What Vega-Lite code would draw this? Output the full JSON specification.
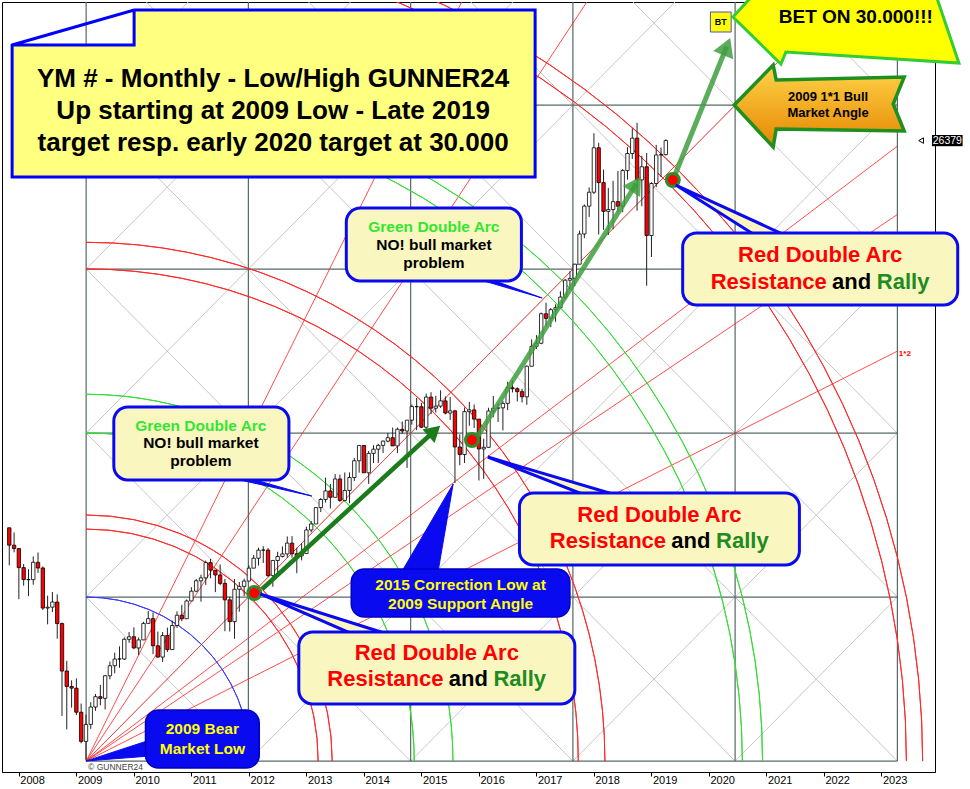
{
"$schema":"https://vega.github.io/schema/vega-lite/v6.json",
"width":933,"height":770,
"autosize":{"type":"none"},
"padding":{"left":2,"top":2,"right":35,"bottom":17},
"background":"#FFFFFF",
"config":{"view":{"stroke":"#000000","strokeWidth":1},"font":"Liberation Sans"},
"datasets":{
"candles":[
{"t":2007.833,"open":13930,"high":13930,"low":12725,"close":13372},
{"t":2007.917,"open":13372,"high":13780,"low":13143,"close":13265},
{"t":2008.0,"open":13262,"high":13280,"low":11635,"close":12650},
{"t":2008.083,"open":12650,"high":12767,"low":12070,"close":12266},
{"t":2008.167,"open":12266,"high":12600,"low":11731,"close":12263},
{"t":2008.25,"open":12263,"high":13010,"low":12100,"close":12820},
{"t":2008.333,"open":12820,"high":13136,"low":12480,"close":12638},
{"t":2008.417,"open":12638,"high":12690,"low":11287,"close":11350},
{"t":2008.5,"open":11350,"high":11750,"low":10827,"close":11378},
{"t":2008.583,"open":11378,"high":11867,"low":11220,"close":11544},
{"t":2008.667,"open":11544,"high":11790,"low":10365,"close":10851},
{"t":2008.75,"open":10851,"high":10882,"low":7882,"close":9325},
{"t":2008.833,"open":9325,"high":9654,"low":7449,"close":8829},
{"t":2008.917,"open":8829,"high":9026,"low":8149,"close":8776},
{"t":2009.0,"open":8772,"high":9088,"low":7909,"close":8001},
{"t":2009.083,"open":8001,"high":8280,"low":7000,"close":7063},
{"t":2009.167,"open":7063,"high":7924,"low":6470,"close":7609},
{"t":2009.25,"open":7609,"high":8325,"low":7466,"close":8168},
{"t":2009.333,"open":8168,"high":8587,"low":8045,"close":8500},
{"t":2009.417,"open":8500,"high":8877,"low":8221,"close":8447},
{"t":2009.5,"open":8447,"high":9200,"low":8088,"close":9172},
{"t":2009.583,"open":9172,"high":9630,"low":9060,"close":9496},
{"t":2009.667,"open":9496,"high":9917,"low":9253,"close":9712},
{"t":2009.75,"open":9712,"high":10119,"low":9430,"close":9713},
{"t":2009.833,"open":9713,"high":10406,"low":9679,"close":10345},
{"t":2009.917,"open":10345,"high":10580,"low":10235,"close":10428},
{"t":2010.0,"open":10428,"high":10729,"low":10026,"close":10067},
{"t":2010.083,"open":10067,"high":10402,"low":9835,"close":10325},
{"t":2010.167,"open":10325,"high":10907,"low":10325,"close":10857},
{"t":2010.25,"open":10857,"high":11258,"low":10857,"close":11009},
{"t":2010.333,"open":11009,"high":11205,"low":9870,"close":10137},
{"t":2010.417,"open":10137,"high":10595,"low":9757,"close":9774},
{"t":2010.5,"open":9774,"high":10580,"low":9614,"close":10466},
{"t":2010.583,"open":10466,"high":10720,"low":9936,"close":10015},
{"t":2010.667,"open":10015,"high":10948,"low":10015,"close":10788},
{"t":2010.75,"open":10788,"high":11246,"low":10712,"close":11118},
{"t":2010.833,"open":11118,"high":11452,"low":10929,"close":11006},
{"t":2010.917,"open":11006,"high":11625,"low":11006,"close":11578},
{"t":2011.0,"open":11578,"high":12020,"low":11577,"close":11892},
{"t":2011.083,"open":11892,"high":12284,"low":11860,"close":12226},
{"t":2011.167,"open":12226,"high":12419,"low":11555,"close":12320},
{"t":2011.25,"open":12320,"high":12876,"low":12093,"close":12811},
{"t":2011.333,"open":12811,"high":12929,"low":12309,"close":12570},
{"t":2011.417,"open":12570,"high":12570,"low":11862,"close":12414},
{"t":2011.5,"open":12414,"high":12753,"low":12087,"close":12143},
{"t":2011.583,"open":12143,"high":12285,"low":10604,"close":11614},
{"t":2011.667,"open":11614,"high":11717,"low":10597,"close":10913},
{"t":2011.75,"open":10913,"high":12284,"low":10362,"close":11955},
{"t":2011.833,"open":11955,"high":12188,"low":11231,"close":12046},
{"t":2011.917,"open":12046,"high":12294,"low":11735,"close":12218},
{"t":2012.0,"open":12218,"high":12721,"low":12218,"close":12633},
{"t":2012.083,"open":12633,"high":13055,"low":12633,"close":12952},
{"t":2012.167,"open":12952,"high":13290,"low":12716,"close":13212},
{"t":2012.25,"open":13212,"high":13338,"low":12800,"close":13214},
{"t":2012.333,"open":13214,"high":13279,"low":12353,"close":12393},
{"t":2012.417,"open":12393,"high":12898,"low":12035,"close":12880},
{"t":2012.5,"open":12880,"high":13159,"low":12492,"close":13009},
{"t":2012.583,"open":13009,"high":13331,"low":12977,"close":13091},
{"t":2012.667,"open":13091,"high":13653,"low":12969,"close":13437},
{"t":2012.75,"open":13437,"high":13662,"low":12970,"close":13096},
{"t":2012.833,"open":13096,"high":13290,"low":12471,"close":13026},
{"t":2012.917,"open":13026,"high":13430,"low":12883,"close":13104},
{"t":2013.0,"open":13104,"high":13969,"low":13104,"close":13861},
{"t":2013.083,"open":13861,"high":14150,"low":13784,"close":14054},
{"t":2013.167,"open":14054,"high":14585,"low":14054,"close":14579},
{"t":2013.25,"open":14579,"high":14888,"low":14434,"close":14840},
{"t":2013.333,"open":14840,"high":15542,"low":14740,"close":15116},
{"t":2013.417,"open":15116,"high":15340,"low":14551,"close":14910},
{"t":2013.5,"open":14910,"high":15658,"low":14910,"close":15500},
{"t":2013.583,"open":15500,"high":15641,"low":14760,"close":14810},
{"t":2013.667,"open":14810,"high":15709,"low":14777,"close":15130},
{"t":2013.75,"open":15130,"high":15710,"low":14719,"close":15546},
{"t":2013.833,"open":15546,"high":16174,"low":15437,"close":16086},
{"t":2013.917,"open":16086,"high":16588,"low":15703,"close":16577},
{"t":2014.0,"open":16577,"high":16588,"low":15699,"close":15699},
{"t":2014.083,"open":15699,"high":16398,"low":15341,"close":16322},
{"t":2014.167,"open":16322,"high":16588,"low":16015,"close":16458},
{"t":2014.25,"open":16458,"high":16631,"low":16015,"close":16581},
{"t":2014.333,"open":16581,"high":16736,"low":16334,"close":16717},
{"t":2014.417,"open":16717,"high":16978,"low":16675,"close":16827},
{"t":2014.5,"open":16827,"high":17152,"low":16563,"close":16563},
{"t":2014.583,"open":16563,"high":17153,"low":16333,"close":17098},
{"t":2014.667,"open":17098,"high":17350,"low":16945,"close":17043},
{"t":2014.75,"open":17043,"high":17395,"low":15855,"close":17391},
{"t":2014.833,"open":17391,"high":17894,"low":17247,"close":17828},
{"t":2014.917,"open":17828,"high":18103,"low":17067,"close":17823},
{"t":2015.0,"open":17823,"high":17951,"low":17136,"close":17165},
{"t":2015.083,"open":17165,"high":18244,"low":17038,"close":18133},
{"t":2015.167,"open":18133,"high":18289,"low":17585,"close":17776},
{"t":2015.25,"open":17776,"high":18175,"low":17634,"close":17841},
{"t":2015.333,"open":17841,"high":18351,"low":17784,"close":18011},
{"t":2015.417,"open":18011,"high":18155,"low":17578,"close":17620},
{"t":2015.5,"open":17620,"high":18137,"low":17400,"close":17690},
{"t":2015.583,"open":17690,"high":17712,"low":15370,"close":16528},
{"t":2015.667,"open":16528,"high":16933,"low":15942,"close":16285},
{"t":2015.75,"open":16285,"high":17800,"low":16013,"close":17664},
{"t":2015.833,"open":17664,"high":17978,"low":17210,"close":17720},
{"t":2015.917,"open":17720,"high":17896,"low":17139,"close":17425},
{"t":2016.0,"open":17425,"high":17425,"low":15451,"close":16466},
{"t":2016.083,"open":16466,"high":16795,"low":15503,"close":16517},
{"t":2016.167,"open":16517,"high":17790,"low":16506,"close":17685},
{"t":2016.25,"open":17685,"high":18168,"low":17485,"close":17774},
{"t":2016.333,"open":17774,"high":17934,"low":17332,"close":17787},
{"t":2016.417,"open":17787,"high":18017,"low":17063,"close":17930},
{"t":2016.5,"open":17930,"high":18622,"low":17713,"close":18432},
{"t":2016.583,"open":18432,"high":18668,"low":18282,"close":18401},
{"t":2016.667,"open":18401,"high":18450,"low":17992,"close":18308},
{"t":2016.75,"open":18308,"high":18399,"low":17959,"close":18142},
{"t":2016.833,"open":18142,"high":19152,"low":17884,"close":19124},
{"t":2016.917,"open":19124,"high":19988,"low":19124,"close":19763},
{"t":2017.0,"open":19763,"high":20126,"low":19678,"close":19864},
{"t":2017.083,"open":19864,"high":20851,"low":19832,"close":20812},
{"t":2017.167,"open":20812,"high":21169,"low":20412,"close":20663},
{"t":2017.25,"open":20663,"high":20997,"low":20379,"close":20941},
{"t":2017.333,"open":20941,"high":21113,"low":20554,"close":21009},
{"t":2017.417,"open":21009,"high":21535,"low":20996,"close":21350},
{"t":2017.5,"open":21350,"high":21929,"low":21280,"close":21891},
{"t":2017.583,"open":21891,"high":22179,"low":21600,"close":21948},
{"t":2017.667,"open":21948,"high":22420,"low":21709,"close":22405},
{"t":2017.75,"open":22405,"high":23485,"low":22405,"close":23377},
{"t":2017.833,"open":23377,"high":24327,"low":23242,"close":24272},
{"t":2017.917,"open":24272,"high":24876,"low":23922,"close":24719},
{"t":2018.0,"open":24719,"high":26617,"low":24660,"close":26149},
{"t":2018.083,"open":26149,"high":26307,"low":23360,"close":25029},
{"t":2018.167,"open":25029,"high":25450,"low":23509,"close":24103},
{"t":2018.25,"open":24103,"high":24858,"low":23344,"close":24163},
{"t":2018.333,"open":24163,"high":25087,"low":23531,"close":24416},
{"t":2018.417,"open":24416,"high":25403,"low":24078,"close":24271},
{"t":2018.5,"open":24271,"high":25462,"low":24077,"close":25415},
{"t":2018.583,"open":25415,"high":26168,"low":25124,"close":25965},
{"t":2018.667,"open":25965,"high":26770,"low":25790,"close":26458},
{"t":2018.75,"open":26458,"high":26951,"low":24123,"close":25116},
{"t":2018.833,"open":25116,"high":25889,"low":24268,"close":25538},
{"t":2018.917,"open":25538,"high":25980,"low":21713,"close":23327},
{"t":2019.0,"open":23327,"high":25040,"low":22639,"close":24999},
{"t":2019.083,"open":24999,"high":26241,"low":24883,"close":25916},
{"t":2019.167,"open":25916,"high":26156,"low":25208,"close":25929},
{"t":2019.25,"open":25929,"high":26424,"low":25900,"close":26379}
],
"pink":[
{"t":2009.5227},{"t":2009.8753},{"t":2010.228},{"t":2010.5807},{"t":2010.9333},{"t":2011.286},{"t":2011.6386},
{"t":2012.344},{"t":2012.6966},{"t":2013.0493},{"t":2013.402},{"t":2013.7546},{"t":2014.1073},{"t":2014.4599},
{"t":2015.1653},{"t":2015.5179},{"t":2015.8706},{"t":2016.2233},{"t":2016.5759},{"t":2016.9286},{"t":2017.2812},
{"t":2017.9866},{"t":2018.3392},{"t":2018.6919},{"t":2019.0446},{"t":2019.3972},{"t":2019.7499},{"t":2020.1025},
{"t":2020.8079},{"t":2021.1605},{"t":2021.5132},{"t":2021.8659},{"t":2022.2185},{"t":2022.5712},{"t":2022.9238}
],
"lattice":[
{"t":2009.170,"v":6430,"t2":2023.277,"v2":32790},
{"t":2011.991,"v":6430,"t2":2023.277,"v2":27518},
{"t":2014.813,"v":6430,"t2":2023.277,"v2":22246},
{"t":2017.634,"v":6430,"t2":2023.277,"v2":16974},
{"t":2020.455,"v":6430,"t2":2023.277,"v2":11702},
{"t":2009.170,"v":11702,"t2":2020.455,"v2":32790},
{"t":2009.170,"v":16974,"t2":2017.634,"v2":32790},
{"t":2009.170,"v":22246,"t2":2014.813,"v2":32790},
{"t":2009.170,"v":27518,"t2":2011.991,"v2":32790},
{"t":2009.170,"v":11702,"t2":2011.991,"v2":6430},
{"t":2009.170,"v":16974,"t2":2014.813,"v2":6430},
{"t":2009.170,"v":22246,"t2":2017.634,"v2":6430},
{"t":2009.170,"v":27518,"t2":2020.455,"v2":6430},
{"t":2009.170,"v":32790,"t2":2023.277,"v2":6430},
{"t":2011.991,"v":32790,"t2":2023.277,"v2":11702},
{"t":2014.813,"v":32790,"t2":2023.277,"v2":16974},
{"t":2017.634,"v":32790,"t2":2023.277,"v2":22246},
{"t":2020.455,"v":32790,"t2":2023.277,"v2":27518}
],
"grid":[
{"t":2009.170,"v":6430,"t2":2009.170,"v2":32790},
{"t":2011.991,"v":6430,"t2":2011.991,"v2":32790},
{"t":2014.813,"v":6430,"t2":2014.813,"v2":32790},
{"t":2017.634,"v":6430,"t2":2017.634,"v2":32790},
{"t":2020.455,"v":6430,"t2":2020.455,"v2":32790},
{"t":2023.277,"v":6430,"t2":2023.277,"v2":32790},
{"t":2009.170,"v":6430,"t2":2023.277,"v2":6430},
{"t":2009.170,"v":11702,"t2":2023.277,"v2":11702},
{"t":2009.170,"v":16974,"t2":2023.277,"v2":16974},
{"t":2009.170,"v":22246,"t2":2023.277,"v2":22246},
{"t":2009.170,"v":27518,"t2":2023.277,"v2":27518}
],
"fan":[
{"t":2009.170,"v":6430,"t2":2016.223,"v2":32790},
{"t":2009.170,"v":6430,"t2":2018.574,"v2":32790},
{"t":2009.170,"v":6430,"t2":2023.277,"v2":32790},
{"t":2009.170,"v":6430,"t2":2023.277,"v2":26200},
{"t":2009.170,"v":6430,"t2":2023.277,"v2":24003},
{"t":2009.170,"v":6430,"t2":2023.277,"v2":19610}
],
"redArcs":[
{"t":2009.170,"v":6430,"r":1.4142},{"t":2009.170,"v":6430,"r":1.5},
{"t":2009.170,"v":6430,"r":3},{"t":2009.170,"v":6430,"r":3.1623},
{"t":2009.170,"v":6430,"r":5},{"t":2009.170,"v":6430,"r":5.099}
],
"greenArcs":[
{"t":2009.170,"v":6430,"r":2},{"t":2009.170,"v":6430,"r":2.2361},
{"t":2009.170,"v":6430,"r":4},{"t":2009.170,"v":6430,"r":4.1231}
],
"blueArc":[{"t":2009.170,"v":6430,"r":1}],
"pointers":[
{"id":"p1","kind":"solid","t":2013.092,"v":14952},
{"id":"p2","kind":"solid","t":2017.100,"v":21318},
{"id":"p3","kind":"open","t":2019.423,"v":24951},
{"id":"p4","kind":"open","t":2016.154,"v":16206},
{"id":"p5","kind":"open","t":2012.198,"v":11802},
{"id":"p6","kind":"solid","t":2015.552,"v":15338},
{"id":"p7","kind":"solid","t":2009.170,"v":6433}
],
"texts":[
{"t":2012.421,"v":28359,"text":"YM # - Monthly - Low/High GUNNER24","style":"title"},
{"t":2012.421,"v":27330,"text":"Up starting at 2009 Low - Late 2019","style":"title"},
{"t":2012.421,"v":26301,"text":"target resp. early 2020 target at 30.000","style":"title"},
{"t":2021.934,"v":22701,"text":"Red Double Arc","style":"red"},
{"t":2021.040,"v":21833,"text":"Resistance","style":"red"},
{"t":2022.482,"v":21833,"text":"and","style":"and"},
{"t":2023.376,"v":21833,"text":"Rally","style":"rally"},
{"t":2019.139,"v":14342,"text":"Red Double Arc","style":"red"},
{"t":2018.244,"v":13506,"text":"Resistance","style":"red"},
{"t":2019.686,"v":13506,"text":"and","style":"and"},
{"t":2020.581,"v":13506,"text":"Rally","style":"rally"},
{"t":2015.268,"v":9905,"text":"Red Double Arc","style":"red"},
{"t":2014.374,"v":9069,"text":"Resistance","style":"red"},
{"t":2015.815,"v":9069,"text":"and","style":"and"},
{"t":2016.710,"v":9069,"text":"Rally","style":"rally"},
{"t":2011.165,"v":17203,"text":"Green Double Arc","style":"greenhead"},
{"t":2011.165,"v":16656,"text":"NO! bull market","style":"note"},
{"t":2011.165,"v":16078,"text":"problem","style":"note"},
{"t":2015.217,"v":23601,"text":"Green Double Arc","style":"greenhead"},
{"t":2015.217,"v":23022,"text":"NO! bull market","style":"note"},
{"t":2015.217,"v":22443,"text":"problem","style":"note"},
{"t":2015.681,"v":12091,"text":"2015 Correction Low at","style":"blue2015"},
{"t":2015.681,"v":11480,"text":"2009 Support Angle","style":"blue2015"},
{"t":2011.191,"v":7461,"text":"2009 Bear","style":"bluebear"},
{"t":2011.191,"v":6818,"text":"Market Low","style":"bluebear"},
{"t":2022.072,"v":27780,"text":"2009 1*1 Bull","style":"bull"},
{"t":2022.072,"v":27266,"text":"Market Angle","style":"bull"},
{"t":2022.554,"v":30352,"text":"BET ON 30.000!!!","style":"bet"},
{"t":2020.206,"v":30192,"text":"BT","style":"bt"}
]
},
"encoding":{
"x":{"field":"t","type":"quantitative","scale":{"domain":[2007.7936,2023.844],"nice":false,"zero":false},
 "axis":{"title":null,"values":[2008,2009,2010,2011,2012,2013,2014,2015,2016,2017,2018,2019,2020,2021,2022,2023],"format":"d","labelAlign":"left","labelOffset":1,"labelBaseline":"middle","tickSize":4,"labelPadding":4,"labelFontSize":11,"labelFont":"Liberation Sans","labelColor":"#000000","tickColor":"#000000","domainColor":"#000000","grid":false,"labelFlush":false,"labelOverlap":false}},
"y":{"field":"v","type":"quantitative","scale":{"domain":[6079,30835],"nice":false,"zero":false},
 "axis":{"orient":"right","title":null,"values":[6240,6760,7280,7800,8320,8840,9360,9880,10400,10920,11440,11960,12480,13000,13520,14040,14560,15080,15600,16120,16640,17160,17680,18200,18720,19240,19760,20280,20800,21320,21840,22360,22880,23400,23920,24440,24960,25480,26000,26520,27040,27560,28080,28600,29120,29640,30160,30680],"format":"d","tickSize":3,"labelPadding":1,"labelFontSize":10.5,"labelFont":"Liberation Sans","labelColor":"#000000","tickColor":"#000000","domainColor":"#000000","grid":false,"labelFlush":false,"labelOverlap":false}}
},
"layer":[
{"data":{"name":"pink"},"mark":{"type":"rule","color":"#EDC3CA","strokeWidth":1,"clip":true},
 "encoding":{"y":{"datum":6430,"type":"quantitative","axis":null},"y2":{"datum":32790}}},
{"data":{"name":"lattice"},"mark":{"type":"rule","color":"#C6C6C6","strokeWidth":1,"clip":true},
 "encoding":{"x2":{"field":"t2"},"y2":{"field":"v2"}}},
{"data":{"name":"grid"},"mark":{"type":"rule","color":"#566868","strokeWidth":1.2,"clip":true},
 "encoding":{"x2":{"field":"t2"},"y2":{"field":"v2"}}},
{"data":{"name":"fan"},"mark":{"type":"rule","color":"#FF2020","opacity":0.8,"strokeWidth":1,"clip":true},
 "encoding":{"x2":{"field":"t2"},"y2":{"field":"v2"}}},
{"data":{"name":"redArcs"},"mark":{"type":"arc","theta":0,"theta2":1.5708,"filled":false,"stroke":"#FF2A2A","strokeWidth":1,"clip":true},
 "encoding":{"radius":{"field":"r","type":"quantitative","scale":{"type":"linear","domain":[0,1],"range":[0,164.05],"zero":true}},"radius2":{"field":"r"}}},
{"data":{"name":"greenArcs"},"mark":{"type":"arc","theta":0,"theta2":1.5708,"filled":false,"stroke":"#33DD33","strokeWidth":1,"clip":true},
 "encoding":{"radius":{"field":"r","type":"quantitative","scale":{"type":"linear","domain":[0,1],"range":[0,164.05],"zero":true}},"radius2":{"field":"r"}}},
{"data":{"name":"blueArc"},"mark":{"type":"arc","theta":0,"theta2":1.5708,"filled":false,"stroke":"#3A3AFF","strokeWidth":1,"clip":true},
 "encoding":{"radius":{"field":"r","type":"quantitative","scale":{"type":"linear","domain":[0,1],"range":[0,164.05],"zero":true}},"radius2":{"field":"r"}}},
{"data":{"name":"candles"},"mark":{"type":"rule","color":"#222222","strokeWidth":1},
 "encoding":{"y":{"field":"low","type":"quantitative","axis":null},"y2":{"field":"high"}}},
{"data":{"name":"candles"},"mark":{"type":"bar","width":3.4,"stroke":"#000000","strokeWidth":0.8},
 "encoding":{"y":{"field":"open","type":"quantitative","axis":null},"y2":{"field":"close"},
 "fill":{"condition":{"test":"datum.close < datum.open","value":"#FF0000"},"value":"#FFFFFF"}}},
{"data":{"values":[{"t":2012.232,"v":11962,"t2":2015.225,"v2":17042}]},"mark":{"type":"rule","color":"#1C7C1C","strokeWidth":4.5},
 "encoding":{"x2":{"field":"t2"},"y2":{"field":"v2"}}},
{"data":{"values":[{"t":2015.982,"v":16881,"t2":2018.735,"v2":24983},{"t":2019.388,"v":25176,"t2":2020.309,"v2":29404}]},"mark":{"type":"rule","color":"#3E9E3E","opacity":0.85,"strokeWidth":5},
 "encoding":{"x2":{"field":"t2"},"y2":{"field":"v2"}}},
{"data":{"values":[{"t":2015.225,"v":17042}]},"mark":{"type":"point","shape":"triangle-up","angle":48,"size":330,"filled":true,"fill":"#1C7C1C","strokeWidth":0,"opacity":1}},
{"data":{"values":[{"t":2018.735,"v":24983}]},"mark":{"type":"point","shape":"triangle-up","angle":32.5,"size":420,"filled":true,"fill":"#3E9E3E","strokeWidth":0,"opacity":0.85}},
{"data":{"values":[{"t":2020.309,"v":29404}]},"mark":{"type":"point","shape":"triangle-up","angle":22,"size":460,"filled":true,"fill":"#3E9E3E","strokeWidth":0,"opacity":0.85}},
{"data":{"values":[{"t":2012.094,"v":11834},{"t":2015.879,"v":16753},{"t":2019.371,"v":25112}]},"mark":{"type":"point","shape":"circle","size":170,"filled":true,"fill":"#FF0000","stroke":"#2E8B2E","strokeWidth":3,"opacity":1}},
{"data":{"name":"pointers"},"transform":[{"filter":"datum.kind == 'solid'"}],"mark":{"type":"point","size":40000,"filled":true,"fill":"#0A0AF0","stroke":"#0A0AF0","strokeWidth":1,"opacity":1},
 "encoding":{"shape":{"field":"id","type":"nominal","legend":null,"scale":{"domain":["p1","p2","p3","p4","p5","p6","p7"],"range":["M0,0L-0.76,-0.17L-0.6,-0.17Z","M0,0L-0.65,-0.19L-0.47,-0.17Z","M0,0L0.79,0.5L1.09,0.5Z","M0,0L1.02,0.4L1.35,0.4Z","M0,0L0.92,0.4L1.27,0.4Z","M0,0L-0.51,0.87L-0.15,0.87Z","M0,0L0.64,-0.21L0.64,-0.05Z"]}}}},
{"data":{"name":"pointers"},"transform":[{"filter":"datum.kind == 'open'"}],"mark":{"type":"point","size":40000,"filled":true,"fill":"#FAF6C0","stroke":"#0A0AF0","strokeWidth":3,"opacity":1},
 "encoding":{"shape":{"field":"id","type":"nominal","legend":null,"scale":{"domain":["p1","p2","p3","p4","p5","p6","p7"],"range":["M0,0L-0.76,-0.17L-0.6,-0.17Z","M0,0L-0.65,-0.19L-0.47,-0.17Z","M0,0L0.79,0.5L1.09,0.5Z","M0,0L1.02,0.4L1.35,0.4Z","M0,0L0.92,0.4L1.27,0.4Z","M0,0L-0.51,0.87L-0.15,0.87Z","M0,0L0.64,-0.21L0.64,-0.05Z"]}}}},
{"data":{"values":[
 {"t":2009.651,"t2":2012.696,"v":15467,"v2":17814},
 {"t":2013.694,"t2":2016.739,"v":21865,"v2":24212},
 {"t":2019.543,"t2":2024.326,"v":21093,"v2":23408},
 {"t":2016.705,"t2":2021.573,"v":12734,"v2":15049},
 {"t":2012.868,"t2":2017.668,"v":8265,"v2":10580}]},
 "mark":{"type":"rect","cornerRadius":14,"fill":"#FAF6C0","stroke":"#0A0AF0","strokeWidth":3},
 "encoding":{"x2":{"field":"t2"},"y2":{"field":"v2"}}},
{"data":{"values":[
 {"t":2013.780,"t2":2017.582,"v":11062,"v2":12605},
 {"t":2010.202,"t2":2012.180,"v":6208,"v2":8072}]},
 "mark":{"type":"rect","cornerRadius":13,"fill":"#0A0AF0","stroke":"#0000C0","strokeWidth":1.5},
 "encoding":{"x2":{"field":"t2"},"y2":{"field":"v2"}}},
{"data":{"values":[{"t":2012.430,"v":27893}]},"mark":{"type":"point","size":40000,"filled":true,"opacity":1,"fill":"#FFFF80","stroke":"#0000FF","strokeWidth":3,
 "shape":"M-2.615,-0.485L-1.395,-0.835L2.615,-0.835L2.615,0.835L-2.615,0.835Z M-2.615,-0.485L-1.395,-0.485L-1.395,-0.835"}},
{"data":{"values":[{"t":2022.382,"v":30352}]},"mark":{"type":"point","size":40000,"filled":true,"opacity":1,"fill":"#FFFF00","stroke":"#33CC33","strokeWidth":3,
 "shape":"M-1.13,0L-0.7,-0.47L-0.64,-0.33L0.9,-0.22L1.13,0.46L-0.6,0.35L-0.65,0.47Z"}},
{"data":{"values":[{"t":2021.917,"v":27523}]},"mark":{"type":"point","size":40000,"filled":true,"opacity":1,
 "fill":{"gradient":"linear","x1":0,"y1":0,"x2":0,"y2":1,"stops":[{"offset":0,"color":"#FFD54A"},{"offset":1,"color":"#E58600"}]},"stroke":"#1F8F1F","strokeWidth":3.5,
 "shape":"M-0.85,0L-0.46,-0.4L-0.43,-0.25L0.85,-0.28L0.74,-0.01L0.85,0.26L-0.43,0.24L-0.46,0.42Z"}},
{"data":{"values":[{"t":2020.025,"t2":2020.386,"v":29870,"v2":30513}]},"mark":{"type":"rect","fill":"#FFFF00","stroke":"#5050C0","strokeWidth":1},
 "encoding":{"x2":{"field":"t2"},"y2":{"field":"v2"}}},
{"data":{"name":"texts"},"transform":[{"filter":"datum.style == 'title'"}],"mark":{"type":"text","font":"Liberation Sans","fontWeight":"bold","fontSize":26,"color":"#000000","align":"center","baseline":"middle"},"encoding":{"text":{"field":"text"}}},
{"data":{"name":"texts"},"transform":[{"filter":"datum.style == 'red'"}],"mark":{"type":"text","font":"Liberation Sans","fontWeight":"bold","fontSize":22,"color":"#FF0000","align":"center","baseline":"middle"},"encoding":{"text":{"field":"text"}}},
{"data":{"name":"texts"},"transform":[{"filter":"datum.style == 'and'"}],"mark":{"type":"text","font":"Liberation Sans","fontWeight":"bold","fontSize":22,"color":"#000000","align":"center","baseline":"middle"},"encoding":{"text":{"field":"text"}}},
{"data":{"name":"texts"},"transform":[{"filter":"datum.style == 'rally'"}],"mark":{"type":"text","font":"Liberation Sans","fontWeight":"bold","fontSize":22,"color":"#1E8C1E","align":"center","baseline":"middle"},"encoding":{"text":{"field":"text"}}},
{"data":{"name":"texts"},"transform":[{"filter":"datum.style == 'greenhead'"}],"mark":{"type":"text","font":"Liberation Sans","fontWeight":"bold","fontSize":15.5,"color":"#33E633","align":"center","baseline":"middle"},"encoding":{"text":{"field":"text"}}},
{"data":{"name":"texts"},"transform":[{"filter":"datum.style == 'note'"}],"mark":{"type":"text","font":"Liberation Sans","fontWeight":"bold","fontSize":15.5,"color":"#000000","align":"center","baseline":"middle"},"encoding":{"text":{"field":"text"}}},
{"data":{"name":"texts"},"transform":[{"filter":"datum.style == 'blue2015'"}],"mark":{"type":"text","font":"Liberation Sans","fontWeight":"bold","fontSize":15.5,"color":"#FFFF00","align":"center","baseline":"middle"},"encoding":{"text":{"field":"text"}}},
{"data":{"name":"texts"},"transform":[{"filter":"datum.style == 'bluebear'"}],"mark":{"type":"text","font":"Liberation Sans","fontWeight":"bold","fontSize":15.5,"color":"#FFFF00","align":"center","baseline":"middle"},"encoding":{"text":{"field":"text"}}},
{"data":{"name":"texts"},"transform":[{"filter":"datum.style == 'bull'"}],"mark":{"type":"text","font":"Liberation Sans","fontWeight":"bold","fontSize":13,"color":"#000000","align":"center","baseline":"middle"},"encoding":{"text":{"field":"text"}}},
{"data":{"name":"texts"},"transform":[{"filter":"datum.style == 'bet'"}],"mark":{"type":"text","font":"Liberation Sans","fontWeight":"bold","fontSize":19,"color":"#000000","align":"center","baseline":"middle"},"encoding":{"text":{"field":"text"}}},
{"data":{"name":"texts"},"transform":[{"filter":"datum.style == 'bt'"}],"mark":{"type":"text","font":"Liberation Sans","fontWeight":"bold","fontSize":9,"color":"#000000","align":"center","baseline":"middle"},"encoding":{"text":{"field":"text"}}},
{"data":{"values":[{"t":2009.204,"v":6240,"text":"© GUNNER24"}]},"mark":{"type":"text","font":"Liberation Sans","fontSize":8.5,"color":"#444444","align":"left","baseline":"middle"},
 "encoding":{"text":{"field":"text"}}},
{"data":{"values":[{"t":2023.302,"v":19518,"text":"1*2"}]},"mark":{"type":"text","font":"Liberation Sans","fontSize":8,"fontWeight":"bold","color":"#FF0000","align":"left","baseline":"middle"},
 "encoding":{"text":{"field":"text"}}},
{"data":{"values":[{"t":2023.878,"t2":2024.411,"v":26199,"v2":26559}]},"mark":{"type":"rect","fill":"#000000"},
 "encoding":{"x2":{"field":"t2"},"y2":{"field":"v2"}}},
{"data":{"values":[{"t":2024.145,"v":26379,"text":"26379"}]},"mark":{"type":"text","font":"Liberation Sans","fontSize":10.5,"color":"#FFFFFF","align":"center","baseline":"middle"},
 "encoding":{"text":{"field":"text"}}},
{"data":{"values":[{"t":2023.689,"v":26379}]},"mark":{"type":"point","shape":"triangle-left","size":30,"filled":false,"stroke":"#000000","strokeWidth":1,"opacity":1}}
]
}
